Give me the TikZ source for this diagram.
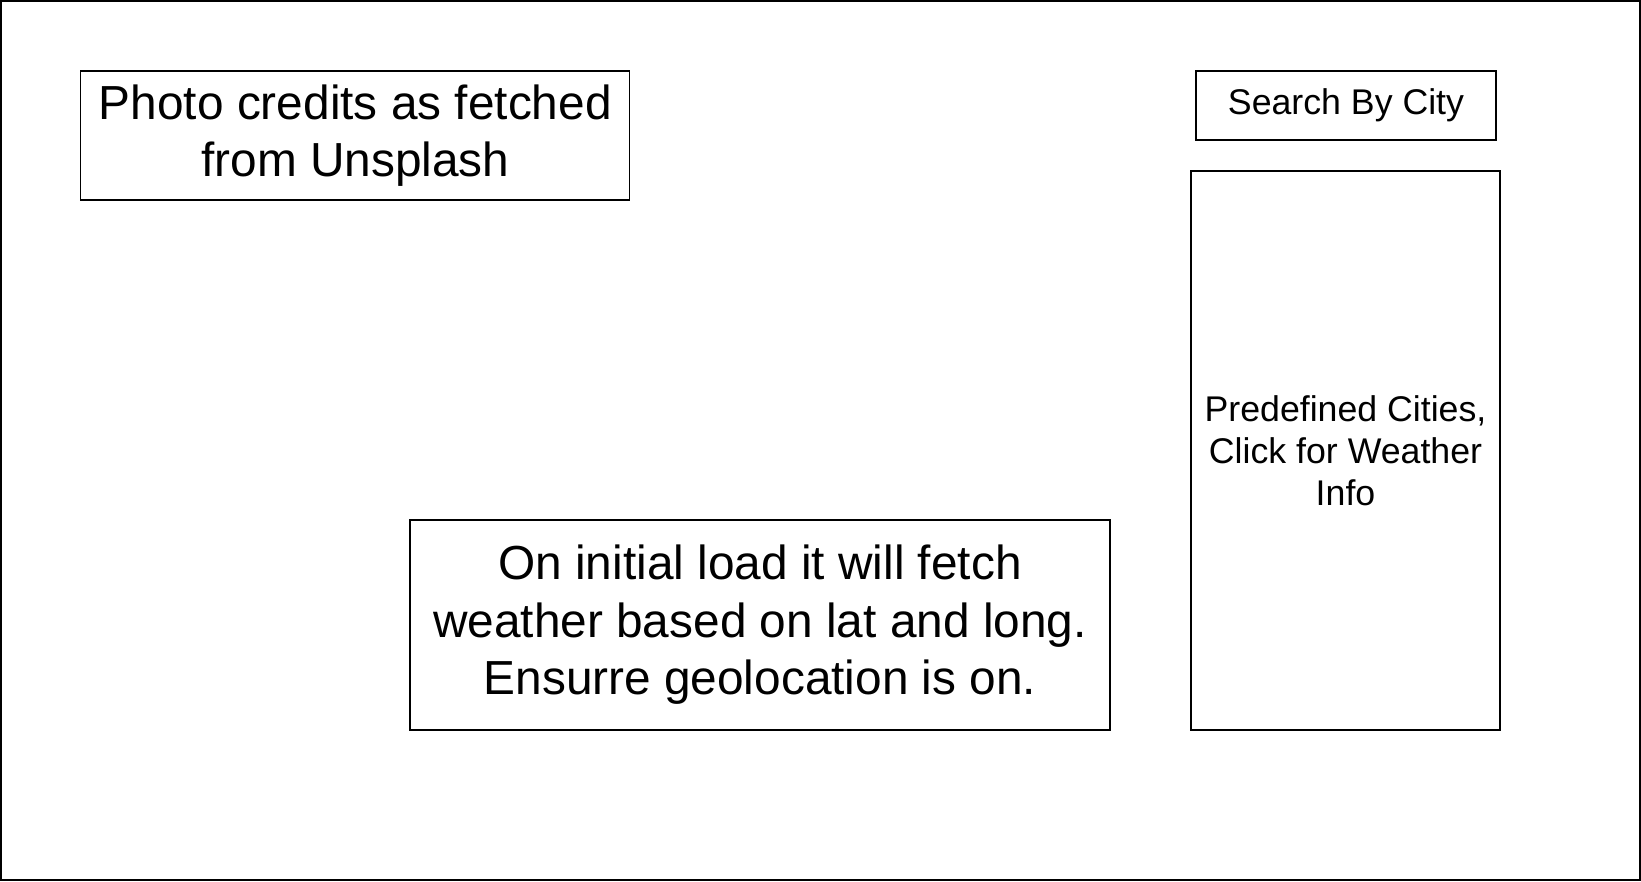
\documentclass[tikz,border=0pt]{standalone}
\usepackage{fontspec}
\setmainfont{Liberation Sans}
\usetikzlibrary{positioning}

\begin{document}
\begin{tikzpicture}[
                x=1bp, y=-1bp,
                % Style for the plain boxes
                uibox/.style={
                    rectangle,
                    draw=black, line width=1.3bp,
                    fill=white,
                    align=center, inner sep=0pt
                },
                % Style for the big text
                bigtext/.style={
                    font=\fontsize{47.8bp}{57.5bp}\selectfont
                },
                % Style for the small text
                smalltext/.style={
                    font=\fontsize{35.7bp}{42bp}\selectfont
                }
            ]
                \useasboundingbox (0,0) rectangle (1641,881);

                % 1. Outer frame of the page
                \node[uibox, line width=2bp, minimum width=1639bp, minimum height=879bp] (page) at (820.5,440.5) {};

                % 2. Boxes (manual coordinates like the sketch)
                \node[uibox, bigtext, minimum width=549bp, minimum height=129bp] (credits) at (355.3,135.5)
                    {Photo credits as fetched\\from Unsplash};
                \node[uibox, smalltext, minimum width=300bp, minimum height=69bp] (search) at (1346,105.5)
                    {Search By City};
                \node[uibox, smalltext, minimum width=309bp, minimum height=559bp] (cities) at (1345.5,450.5)
                    {Predefined Cities,\\Click for Weather\\Info};
                \node[uibox, bigtext, minimum width=700bp, minimum height=210bp] (initload) at (760,625)
                    {On initial load it will fetch\\weather based on lat and long.\\Ensurre geolocation is on.};

            \end{tikzpicture}
\end{document}
